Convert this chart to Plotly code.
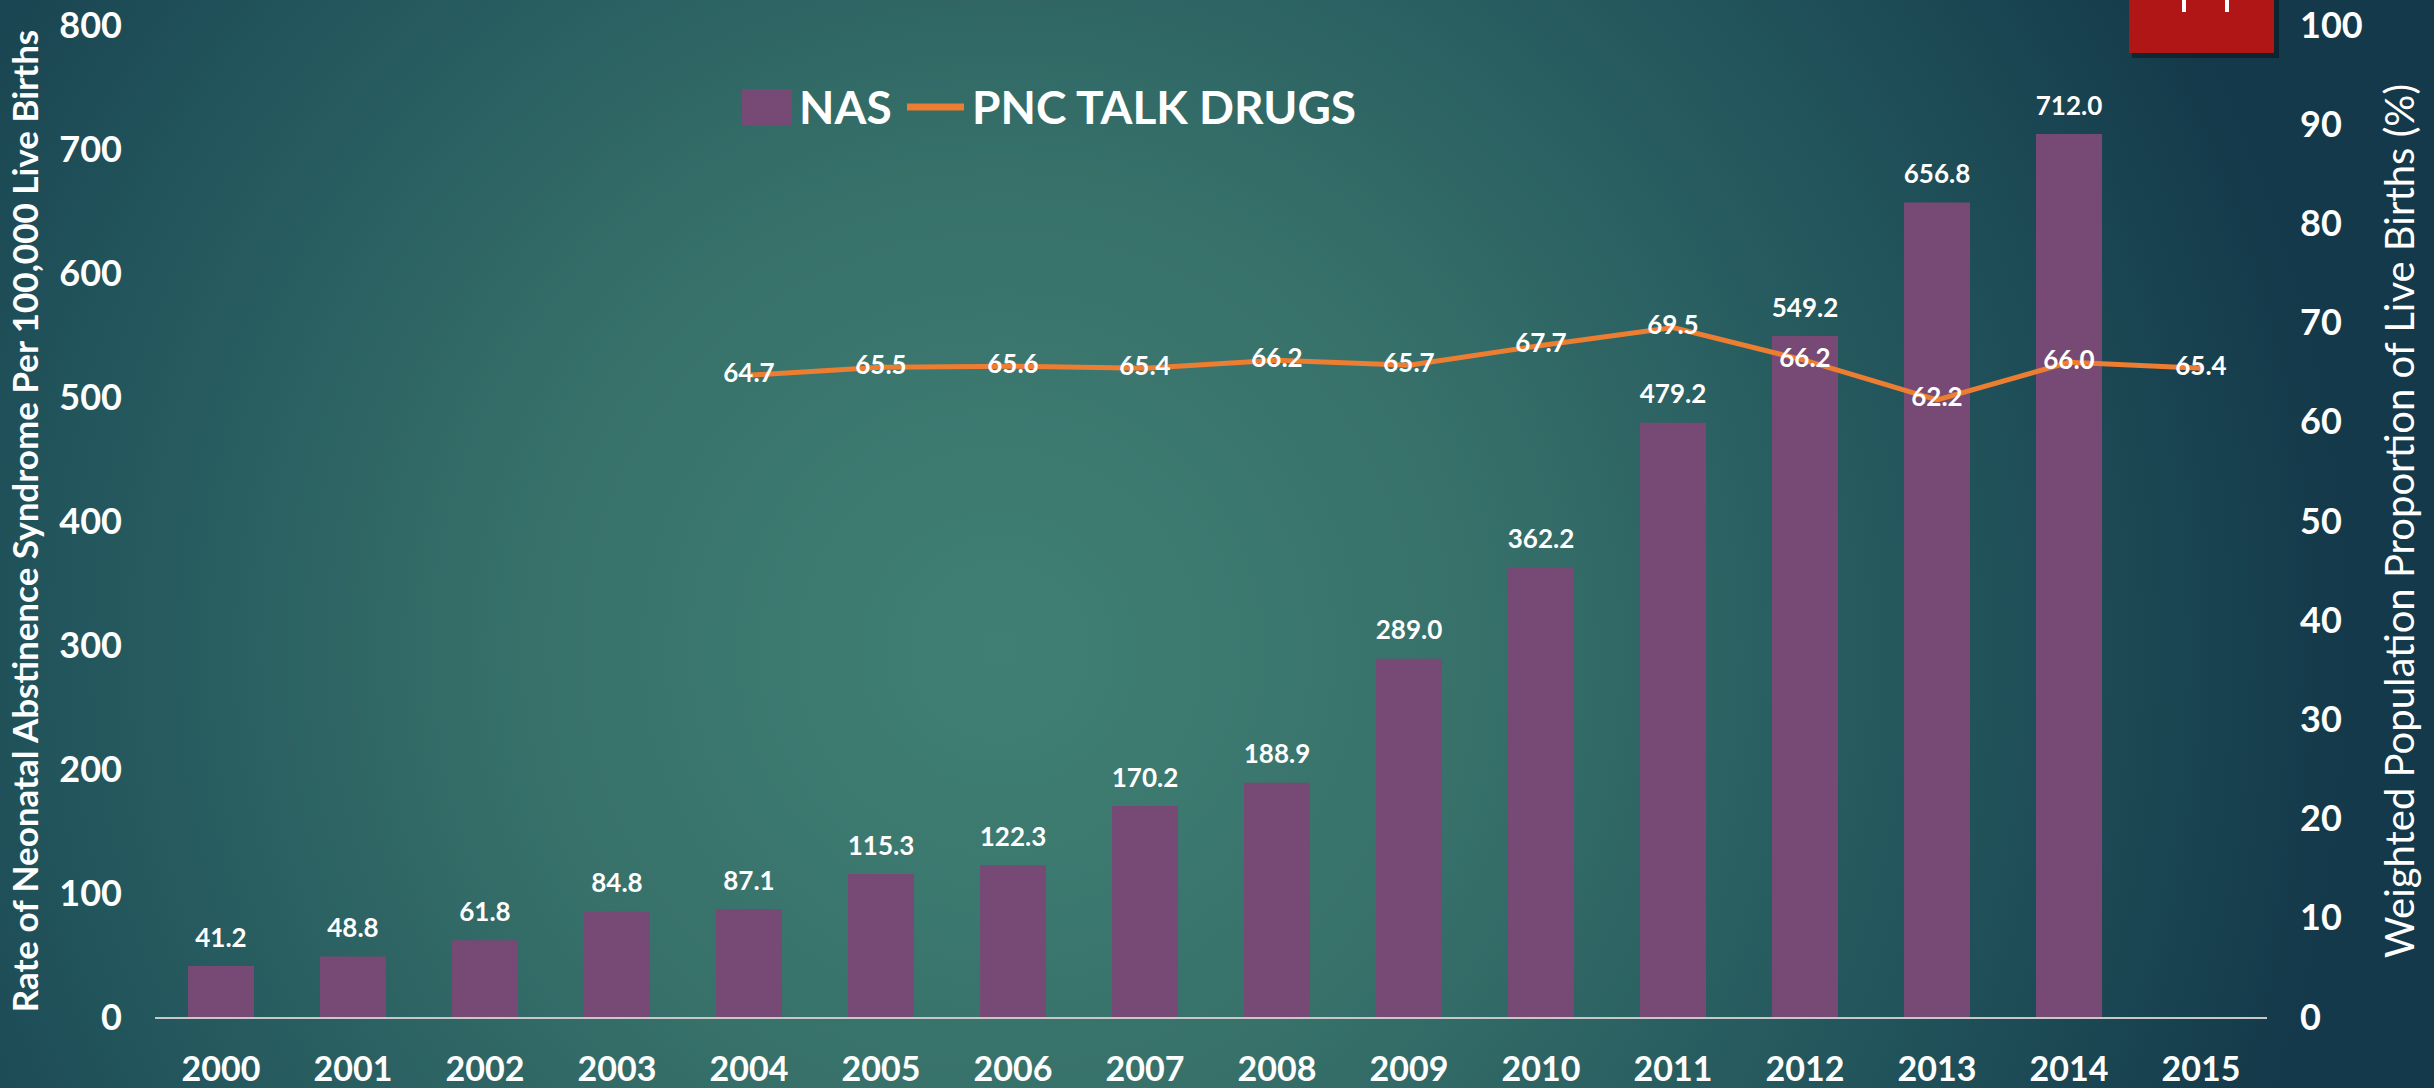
import base64
import plotly.graph_objects as go

# ---- data -------------------------------------------------------------
years = [str(y) for y in range(2000, 2016)]
nas_years = years[:15]
nas_rate = [41.2, 48.8, 61.8, 84.8, 87.1, 115.3, 122.3, 170.2, 188.9,
            289.0, 362.2, 479.2, 549.2, 656.8, 712.0]
pnc_years = years[4:]
pnc_talk_drugs = [64.7, 65.5, 65.6, 65.4, 66.2, 65.7, 67.7, 69.5, 66.2,
                  62.2, 66.0, 65.4]

left_ticks = list(range(0, 801, 100))
right_ticks = list(range(0, 101, 10))

# ---- styling ----------------------------------------------------------
W, H = 2434, 1088
M_L, M_R, M_T, M_B = 155, 167, 25, 71
PW, PH = W - M_L - M_R, H - M_T - M_B

BAR_COLOR = "#764a74"
LINE_COLOR = "#ed7d31"
FONT = "Lato, 'Open Sans', sans-serif"


def fx(px):
    """page pixel x -> paper x"""
    return (px - M_L) / PW


def fy(py):
    """page pixel y -> paper y"""
    return (H - M_B - py) / PH


# radial teal backdrop as an inline SVG (slightly larger than the page)
OV = 40
svg = (
    f'<svg xmlns="http://www.w3.org/2000/svg" width="{W + 2 * OV}" '
    f'height="{H + 2 * OV}" viewBox="{-OV} {-OV} {W + 2 * OV} {H + 2 * OV}" '
    'preserveAspectRatio="none">'
    '<defs><radialGradient id="g" gradientUnits="userSpaceOnUse" '
    'cx="1000" cy="650" r="1350">'
    '<stop offset="0" stop-color="#408074"/>'
    '<stop offset="0.35" stop-color="#37716a"/>'
    '<stop offset="0.7" stop-color="#22555c"/>'
    '<stop offset="1" stop-color="#14394a"/>'
    '</radialGradient></defs>'
    f'<rect x="{-OV}" y="{-OV}" width="{W + 2 * OV}" height="{H + 2 * OV}" '
    'fill="url(#g)"/></svg>'
)
bg_src = "data:image/svg+xml;base64," + base64.b64encode(svg.encode()).decode()

fig = go.Figure()

fig.add_trace(go.Bar(
    x=nas_years, y=nas_rate, name="NAS",
    marker=dict(color=BAR_COLOR, line=dict(width=0)),
    showlegend=False, hoverinfo="x+y",
))

# value labels above the bars
fig.add_trace(go.Scatter(
    x=nas_years, y=nas_rate, mode="markers+text",
    text=[f"{v:.1f}" for v in nas_rate], textposition="top center",
    textfont=dict(family=FONT, size=26, color="white", weight="bold"),
    marker=dict(size=19, opacity=0), showlegend=False, hoverinfo="skip",
    cliponaxis=False,
))

fig.add_trace(go.Scatter(
    x=pnc_years, y=pnc_talk_drugs, name="PNC TALK DRUGS", yaxis="y2",
    mode="lines+text", line=dict(color=LINE_COLOR, width=5),
    text=[f"{v:.1f}" for v in pnc_talk_drugs], textposition="middle center",
    textfont=dict(family=FONT, size=26, color="white", weight="bold"),
    showlegend=False, cliponaxis=False,
))

# legend drawn as key swatches + labels
LEG_Y = 107
shapes = [
    dict(type="rect", xref="paper", yref="paper",
         x0=fx(742), x1=fx(792), y0=fy(LEG_Y + 18), y1=fy(LEG_Y - 18),
         fillcolor=BAR_COLOR, line=dict(width=0)),
    dict(type="line", xref="paper", yref="paper",
         x0=fx(907), x1=fx(964), y0=fy(LEG_Y), y1=fy(LEG_Y),
         line=dict(color=LINE_COLOR, width=7)),
    # red tab in the top-right corner, with a soft shadow
    dict(type="rect", xref="paper", yref="paper",
         x0=fx(2132), x1=fx(2279), y0=fy(58), y1=fy(-5),
         fillcolor="rgba(0,0,0,0.35)", line=dict(width=0)),
    dict(type="rect", xref="paper", yref="paper",
         x0=fx(2129), x1=fx(2274), y0=fy(53), y1=fy(-5),
         fillcolor="#b11616", line=dict(width=0)),
    dict(type="line", xref="paper", yref="paper",
         x0=fx(2184), x1=fx(2184), y0=fy(12), y1=fy(-2),
         line=dict(color="white", width=4)),
    dict(type="line", xref="paper", yref="paper",
         x0=fx(2227), x1=fx(2227), y0=fy(12), y1=fy(-2),
         line=dict(color="white", width=4)),
]

annotations = [
    dict(text="NAS", xref="paper", yref="paper", x=fx(797), y=fy(LEG_Y),
         xanchor="left", yanchor="middle", showarrow=False,
         font=dict(family=FONT, size=46, color="white", weight="bold")),
    dict(text="PNC TALK DRUGS", xref="paper", yref="paper", x=fx(970),
         y=fy(LEG_Y), xanchor="left", yanchor="middle", showarrow=False,
         font=dict(family=FONT, size=46, color="white", weight="bold")),
]

fig.update_layout(
    width=W, height=H,
    margin=dict(l=M_L, r=M_R, t=M_T, b=M_B, pad=0, autoexpand=False),
    paper_bgcolor="#14394a", plot_bgcolor="rgba(0,0,0,0)",
    bargap=0.5,
    shapes=shapes, annotations=annotations,
    images=[dict(source=bg_src, xref="paper", yref="paper",
                 x=fx(-OV), y=fy(-OV), sizex=(W + 2 * OV) / PW,
                 sizey=(H + 2 * OV) / PH,
                 xanchor="left", yanchor="top", sizing="stretch",
                 layer="below")],
    xaxis=dict(
        type="category", categoryorder="array", categoryarray=years,
        range=[-0.5, 15.5], showgrid=False, zeroline=False,
        showline=True, linecolor="#c8c8c8", linewidth=2, automargin=False,
        ticks="", ticklabelstandoff=21,
        tickfont=dict(family=FONT, size=34, color="white", weight="bold"),
    ),
    yaxis=dict(
        range=[0, 800], tickvals=left_ticks, showgrid=False, zeroline=False,
        showline=False, ticks="", ticklabelstandoff=32, automargin=False,
        tickfont=dict(family=FONT, size=36, color="white", weight="bold"),
        title=dict(
            text="Rate of Neonatal Abstinence Syndrome Per 100,000 Live Births",
            font=dict(family=FONT, size=35, color="white", weight="bold"),
            standoff=10),
    ),
    yaxis2=dict(
        range=[0, 100], tickvals=right_ticks, overlaying="y", side="right",
        showgrid=False, zeroline=False, showline=False, ticks="",
        ticklabelstandoff=32, automargin=False,
        tickfont=dict(family=FONT, size=36, color="white", weight="bold"),
        title=dict(
            text="Weighted Population Proportion of Live Births (%)",
            font=dict(family=FONT, size=40, color="white"),
            standoff=24),
    ),
)

fig.write_html("out.html")
